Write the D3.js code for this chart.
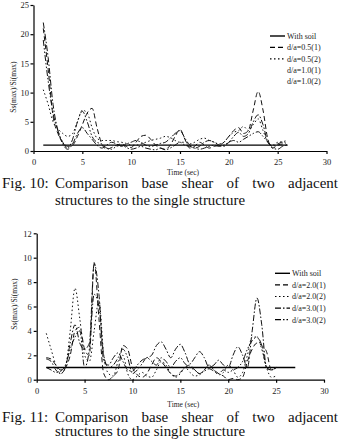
<!DOCTYPE html>
<html><head><meta charset="utf-8">
<script src="https://cdn.jsdelivr.net/npm/d3@7"></script>
<style>
html,body{margin:0;padding:0;background:#fff;}
svg{display:block;font-family:"Liberation Serif","Times New Roman",Times,serif;}
</style></head>
<body>
<svg id="c" width="339" height="439"></svg>
<script>
// ---------- DATA ----------
const timeTop = [1,1.5,2,2.5,3,3.5,4,4.5,5,5.5,6,6.5,7,7.5,8,8.5,9,9.5,10,10.5,11,11.5,12,12.5,13,13.5,14,14.5,15,15.5,16,16.5,17,17.5,18,18.5,19,19.5,20,20.5,21,21.5,22,22.5,23,23.5,24,24.5,25,25.5,26];
const top05_1 = [21,14,6,3,1.5,0.8,1,2.5,4.5,6.5,7.3,4,1.2,0.3,0.6,1,1.2,0.8,0.6,1.5,2.5,2.7,2,1,0.5,0.3,1,2.5,3.7,2,0.5,0.8,1.5,1,0.5,0.8,1,1.5,2.5,3.5,4,3,3.5,7,10.2,7,2,0.5,1,1.2,1];
const top05_2 = [10.5,8,5,3.8,3,2.5,3,5,7,6.5,4,2.2,1.8,1.8,1.8,1.6,1.5,1.3,1,1,1.2,1.5,1.8,2,2.2,2.5,2.3,1.8,1.5,1.5,1.2,1.5,2,2.2,1.8,1.5,1.2,1.5,2.5,3.2,3.5,4.2,3.5,4.5,5.5,3.5,1.5,1,1.5,1.6,1.8];
const top10_1 = [22,16,8,3.5,1.2,0.3,1.2,3,4,3,2,1,0.5,1,1.5,1.2,0.8,1.2,1.5,1.8,1.5,1,0.8,1,1.3,1.5,2.2,3,3.5,2.2,1,0.5,0.8,1.5,1.8,1.5,1,0.8,1.5,2.5,3.2,2.5,3,5,6.2,4.5,1.5,0.8,1.2,1.5,1.2];
const top10_2 = [19,12,6.5,3.5,1.5,0.5,2,5,6.8,5,2.5,1.5,1.2,0.5,0.3,0.8,1,0.6,0.3,0.5,0.8,0.5,0.3,0.2,0.5,0.2,0.5,1,1.5,1,0.8,0.5,0.3,0.5,0.8,1,0.8,1,1.5,1.8,1.5,2,2.5,3,3.3,2.5,1.5,0.5,0.3,0.8,1];
const soilTopT = [1,26], soilTopV = [1,1];

const timeBot = [1,1.5,2,2.5,3,3.5,4,4.5,5,5.5,6,6.5,7,7.5,8,8.5,9,9.5,10,10.5,11,11.5,12,12.5,13,13.5,14,14.5,15,15.5,16,16.5,17,17.5,18,18.5,19,19.5,20,20.5,21,21.5,22,22.5,23,23.5,24,24.5,25];
const bot20_1 = [1.8,1.7,1.2,0.8,1,2,4,4.3,2.5,2,9.6,5,0.5,0,0.3,0.8,2.8,2.5,1,0.4,0.2,0.5,1.2,1.8,1.5,1,0.5,0.3,0.6,1,1.2,0.8,0.5,0.8,1.2,0.8,0.5,0.3,0,0.1,0,0.2,1.5,2.5,3,2.8,2.3,0.8,1];
const bot20_2 = [3.8,2.5,1.2,0.5,1,4,7.5,5,2,1.5,4,6.5,2,0.5,0.3,1.5,2,0.5,0,0.3,0.6,0.3,0.2,0.8,1.5,1.2,0.5,0.2,0.5,1,0.6,0.3,0.4,0.8,1.2,0.8,0.4,0.6,1.2,0.8,0.2,0.6,2,3.5,3.5,2.5,1,0.2,0.3];
const bot30_1 = [1.7,1.5,0.8,0.5,1,3,4.5,3,2.5,3,9.5,7,1.5,1.2,1.8,2.2,1.5,0.8,0.7,1.2,1.6,1.8,2,2.8,3.1,2.5,1.8,2.5,2.9,2.2,1.3,1.8,2.3,1.8,1,1.2,1.6,1.2,1,2,2.7,2,1,4,6.7,4.5,1,0.8,1];
const bot30_2 = [1,0.8,0.6,0.7,1.2,2.5,3.5,4,1,2.5,7,6,2,1,1.2,1.8,2.5,1.8,0.5,0.8,1.3,1.8,1.5,1.2,1.8,1.5,1,1.5,1.8,1.3,1,0.8,0.5,0.7,0.9,0.7,0.5,0.8,0.6,0.8,1,1.5,2.5,3.2,3.5,2.8,1,0.8,1];
const soilBotT = [1,27], soilBotV = [1,1];

const xTicks = [0,5,10,15,20,25,30];
const yTicksTop = [0,5,10,15,20,25];
const yTicksBot = [0,2,4,6,8,10,12];
const legendTop = ["With soil","d/a=0.5(1)","d/a=0.5(2)","d/a=1.0(1)","d/a=1.0(2)"];
const legendBot = ["With soil","d/a=2.0(1)","d/a=2.0(2)","d/a=3.0(1)","d/a=3.0(2)"];
const captionTopLabel = "Fig. 10:";
const captionBotLabel = "Fig. 11:";
const captionLine1 = ["Comparison","base","shear","of","two","adjacent"];
const captionLine2 = "structures to the single structure";

// ---------- DRAW ----------
const FONT = "Liberation Serif";
const svg = d3.select("#c");
const dashes = [null,"5,3","1.5,2.5","6,2,1.5,2","6,2,1.5,2,1.5,2"];

function chart(cfg){
  const x = d3.scaleLinear().domain([0,30]).range(cfg.xr);
  const y = d3.scaleLinear().domain(cfg.yd).range(cfg.yr);
  const g = svg.append("g").attr("font-family",FONT);
  const xa = g.append("g").attr("transform",`translate(0,${cfg.yr[0]})`)
    .call(d3.axisBottom(x).tickValues(xTicks).tickSize(3).tickSizeOuter(0).tickPadding(5));
  const ya = g.append("g").attr("transform",`translate(${cfg.xr[0]},0)`)
    .call(d3.axisLeft(y).tickValues(cfg.yt).tickSize(3).tickSizeOuter(0).tickPadding(cfg.ypad));
  [xa,ya].forEach(a=>{
    a.attr("font-family",FONT);
    a.selectAll("path,line").attr("stroke","#000").attr("stroke-width",1.2);
    a.selectAll("text").attr("font-family",FONT).attr("font-size",8.5).attr("fill","#222");
  });
  g.append("text").attr("x",(cfg.xr[0]+cfg.xr[1])/2+3).attr("y",cfg.xtitleY)
    .attr("text-anchor","middle").attr("font-size",7.5).attr("fill","#222").text("Time (sec)");
  g.append("text").attr("transform",`translate(${cfg.ytitleX},${cfg.ytitleY}) rotate(-90)`)
    .attr("text-anchor","middle").attr("font-size",7.5).attr("fill","#222").text("Ss(max)/Si(max)");

  const line = d3.line().x(d=>x(d[0])).y(d=>y(d[1])).curve(d3.curveMonotoneX);
  g.append("path").datum(cfg.soilT.map((t,i)=>[t,cfg.soilV[i]]))
    .attr("d",line).attr("fill","none").attr("stroke","#000").attr("stroke-width",1.3);
  cfg.series.forEach((s,i)=>{
    g.append("path").datum(cfg.t.map((t,j)=>[t,s[j]]))
      .attr("d",line).attr("fill","none").attr("stroke","#111").attr("stroke-width",1)
      .attr("stroke-dasharray",dashes[i+1]);
  });
  cfg.legend.forEach((name,i)=>{
    const yy = cfg.ly + i*cfg.lstep;
    if(cfg.showSample[i]){
      g.append("line").attr("x1",cfg.lx).attr("x2",cfg.lx+15).attr("y1",yy).attr("y2",yy)
        .attr("stroke","#000").attr("stroke-width",i===0?1.4:1.2)
        .attr("stroke-dasharray",dashes[i]);
    }
    g.append("text").attr("x",cfg.lx+17).attr("y",yy+2.8).attr("font-size",8).attr("fill","#222").text(name);
  });
}

chart({xr:[33.5,326.5], yd:[0,25], yr:[151,5], yt:yTicksTop, ypad:1.5,
  xtitleY:174.5, ytitleX:15.5, ytitleY:87,
  t:timeTop, series:[top05_1,top05_2,top10_1,top10_2], soilT:soilTopT, soilV:soilTopV,
  legend:legendTop, lx:270, ly:36, lstep:11.4, showSample:[true,true,true,false,false]});

chart({xr:[36.7,324], yd:[0,12], yr:[379.7,233.3], yt:yTicksBot, ypad:2,
  xtitleY:406.5, ytitleX:16.5, ytitleY:304,
  t:timeBot, series:[bot20_1,bot20_2,bot30_1,bot30_2], soilT:soilBotT, soilV:soilBotV,
  legend:legendBot, lx:275, ly:273.3, lstep:11.6, showSample:[true,true,true,true,true]});

function caption(label,y1,y2){
  const g = svg.append("g").attr("font-family",FONT).attr("font-size",15).attr("fill","#111");
  g.append("text").attr("x",2).attr("y",y1).text(label);
  // justify words between indent and right edge
  const left = 55, right = 338;
  const nodes = captionLine1.map(w=>g.append("text").attr("y",y1).text(w));
  const widths = nodes.map(n=>n.node().getComputedTextLength());
  const total = d3.sum(widths);
  const gap = (right-left-total)/(captionLine1.length-1);
  let xx = left;
  nodes.forEach((n,i)=>{ n.attr("x",xx); xx += widths[i]+gap; });
  g.append("text").attr("x",left).attr("y",y2)
    .attr("textLength",190).attr("lengthAdjust","spacingAndGlyphs").text(captionLine2);
}
caption(captionTopLabel,188,205);
caption(captionBotLabel,421.5,436);
</script>
</body></html>
